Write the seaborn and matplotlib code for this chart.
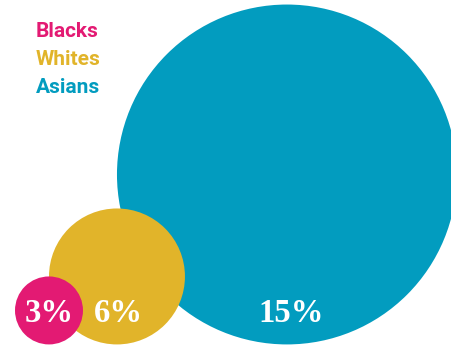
import matplotlib
matplotlib.use("Agg")
import matplotlib.pyplot as plt
from matplotlib.patches import Circle
import seaborn as sns

groups = ["Blacks", "Whites", "Asians"]
values = [3, 6, 15]
labels = ["3%", "6%", "15%"]
colors = ["#E31A73", "#E1B42A", "#029CBF"]

sns.set_theme(style="white")
plt.rcParams['font.family'] = ['Roboto', 'DejaVu Sans']

W, H, DPI = 451, 345, 100
unit = 11.33  # pixels per value unit (radius)
fig = plt.figure(figsize=(W / DPI, H / DPI), dpi=DPI)
ax = fig.add_axes([0, 0, 1, 1])
ax.set_xlim(0, W / unit)
ax.set_ylim(0, H / unit)
ax.set_aspect("equal")
ax.axis("off")

# each circle's left edge sits at the previous circle's centre
x = 15 / unit
centers = []
prev_center = None
for v in values:
    c = (x + v) if prev_center is None else (prev_center + v)
    centers.append(c)
    prev_center = c

base = 0.05
for i, (v, c, col) in enumerate(zip(values, centers, colors)):
    ax.add_patch(Circle((c, base + v), v, color=col, lw=0, zorder=10 - i))

label_y = base + values[0] - 0.3
offsets = [0.05, 0.15, 0.4]
for c, lab, o in zip(centers, labels, offsets):
    ax.text(c + o, label_y, lab, ha="center", va="center", color="white",
            fontsize=23.5, fontweight="bold",
            family=["Liberation Serif", "DejaVu Serif"], zorder=20)

for i, (g, col) in enumerate(zip(groups, colors)):
    ax.text(36 / unit, (H - 32 - 28 * i) / unit, g, ha="left", va="center",
            color=col, fontsize=15, fontweight="bold", zorder=20)

fig.savefig("out.png", dpi=DPI, facecolor="white")
